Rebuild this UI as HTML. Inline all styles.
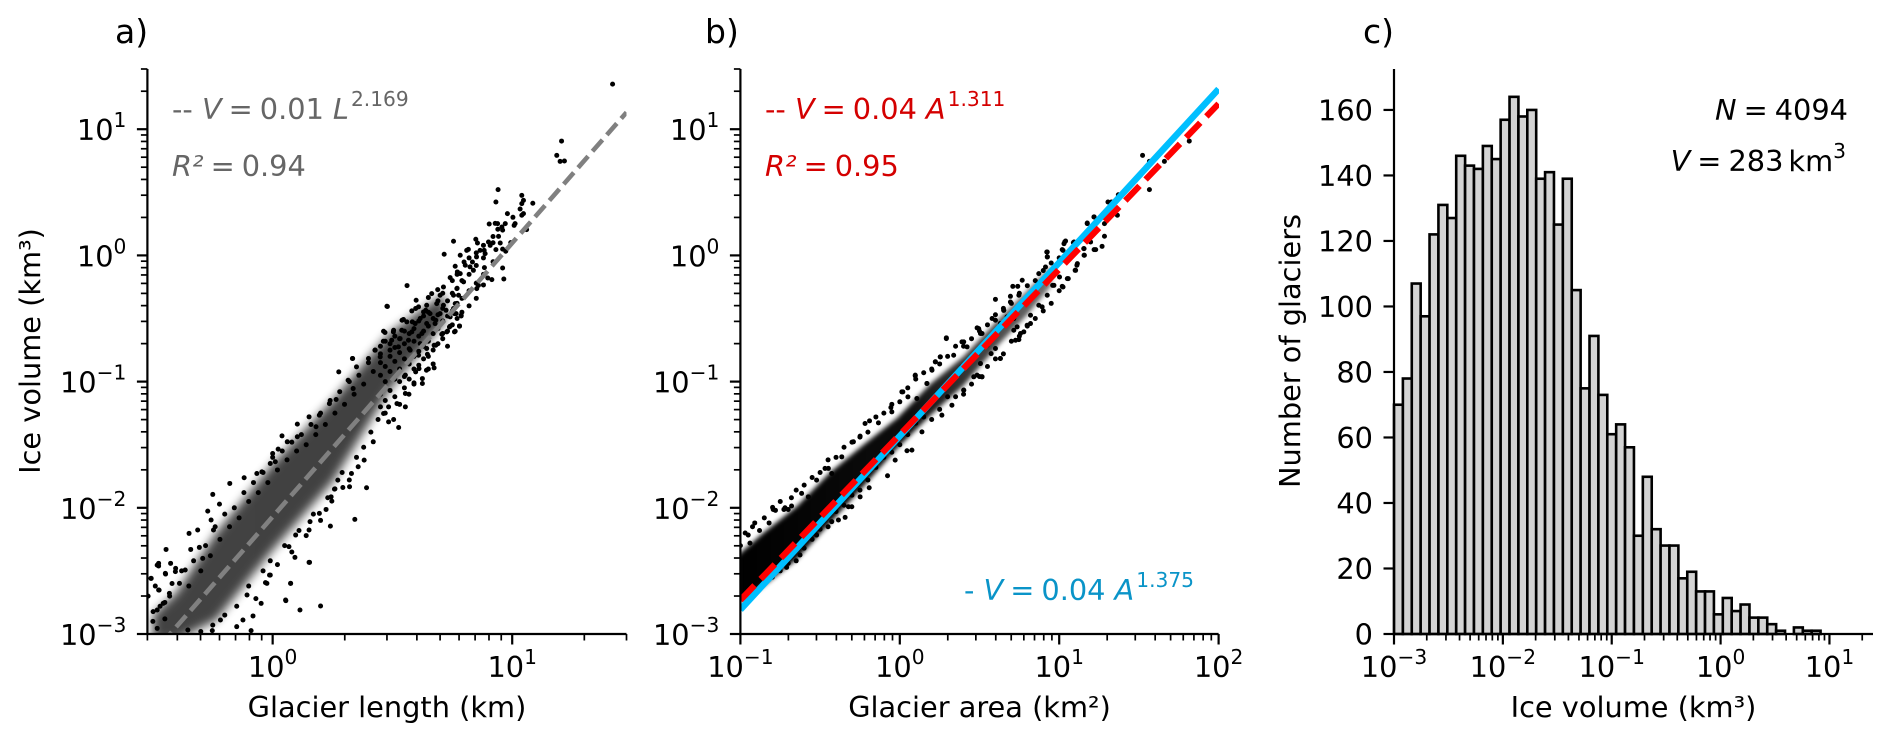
<!DOCTYPE html>
<html lang="en">
<head>
<meta charset="utf-8">
<title>Glacier volume scaling</title>
<style>
html,body{margin:0;padding:0;background:#fff;width:1892px;height:742px;overflow:hidden}
svg{display:block}
text{font-family:"DejaVu Sans","Liberation Sans",sans-serif;font-size:28.8px;fill:#000}
.it{font-style:italic}
</style>
</head>
<body>
<svg id="figure" xmlns="http://www.w3.org/2000/svg" width="1892" height="742" viewBox="0 0 1892 742">
<defs>
<clipPath id="clip-a"><rect x="147.4" y="69" width="479.1" height="565"/></clipPath>
<clipPath id="clip-b"><rect x="740.4" y="69" width="478.6" height="565"/></clipPath>
<filter id="soft-a" x="-10%" y="-10%" width="120%" height="120%"><feGaussianBlur stdDeviation="5"/></filter>
<filter id="soft-b" x="-10%" y="-10%" width="120%" height="120%"><feGaussianBlur stdDeviation="2.5"/></filter>
<linearGradient id="fade-b" x1="0" y1="0" x2="1" y2="0">
<stop offset="0" stop-color="#000" stop-opacity="1"/>
<stop offset="0.55" stop-color="#000" stop-opacity="0.95"/>
<stop offset="1" stop-color="#000" stop-opacity="0.55"/>
</linearGradient>
</defs>
<g id="panel-a"></g>
<g id="panel-b"></g>
<g id="panel-c"></g>

<text x="115" y="43" style="font-size:33px">a)</text>
<text x="705" y="43" style="font-size:33px">b)</text>
<text x="1363" y="43" style="font-size:33px">c)</text>

<text x="387" y="717" text-anchor="middle">Glacier length (km)</text>
<text x="979.5" y="717" text-anchor="middle">Glacier area (km²)</text>
<text x="1633.5" y="717" text-anchor="middle">Ice volume (km³)</text>
<text transform="translate(40,351) rotate(-90)" text-anchor="middle">Ice volume (km³)</text>
<text transform="translate(1300,351) rotate(-90)" text-anchor="middle">Number of glaciers</text>

<text x="172" y="119" style="fill:#666">-- <tspan class="it" style="fill:#666">V</tspan><tspan dx="7" style="fill:#666">=</tspan><tspan dx="7" style="fill:#666">0.01</tspan><tspan dx="9" class="it" style="fill:#666">L</tspan><tspan dx="2" dy="-13" style="font-size:20.2px;fill:#666">2.169</tspan></text>
<text x="172" y="176" style="fill:#666"><tspan class="it" style="fill:#666">R²</tspan><tspan dx="7" style="fill:#666">=</tspan><tspan dx="7" style="fill:#666">0.94</tspan></text>

<text x="765" y="119" style="fill:#d40000">-- <tspan class="it" style="fill:#d40000">V</tspan><tspan dx="7" style="fill:#d40000">=</tspan><tspan dx="7" style="fill:#d40000">0.04</tspan><tspan dx="9" class="it" style="fill:#d40000">A</tspan><tspan dx="2" dy="-13" style="font-size:20.2px;fill:#d40000">1.311</tspan></text>
<text x="765" y="176" style="fill:#d40000"><tspan class="it" style="fill:#d40000">R²</tspan><tspan dx="7" style="fill:#d40000">=</tspan><tspan dx="7" style="fill:#d40000">0.95</tspan></text>
<text x="964" y="600" style="fill:#0a94c8">- <tspan class="it" style="fill:#0a94c8">V</tspan><tspan dx="7" style="fill:#0a94c8">=</tspan><tspan dx="7" style="fill:#0a94c8">0.04</tspan><tspan dx="9" class="it" style="fill:#0a94c8">A</tspan><tspan dx="2" dy="-13" style="font-size:20.2px;fill:#0a94c8">1.375</tspan></text>

<text x="1848" y="120" text-anchor="end"><tspan class="it">N</tspan><tspan dx="7">=</tspan><tspan dx="7">4094</tspan></text>
<text x="1846" y="171" text-anchor="end"><tspan class="it">V</tspan><tspan dx="7">=</tspan><tspan dx="7">283</tspan><tspan dx="5">km</tspan><tspan dy="-13" style="font-size:20.2px">3</tspan></text>
</svg>

<script>
// ---------- Panel a: log10(length km), log10(volume km3) ----------
const aLengthLog10 = [
1.419,1.206,1.186,1.200,1.218,.941,.932,1.040,1.047,1.040,1.086,1.033,1.047,1.040,.980,1.003,.904,.929,.939,.971,.957,.940,1.012,1.008,1.060,.943,.848,.855,.901,.908,.950,.994,.755,.817,.810,.866,.883,.887,.932,.973,.783,.716,.851,.799,.834,.762,.804,.824,.838,.884,.771,.783,.741,.797,.898,.915,.965,.859,.880,.852,.561,.713,.689,.664,.650,.699,.769,.755,.776,.599,.479,.685,.713,.643,.609,.762,.755,.581,.630,.657,.699,.741,.766,.787,.616,.546,.560,.595,.643,.678,.741,.780,.762,.727,.706,.469,.504,.539,.581,.623,.462,.497,.532,.567,.616,.681,.428,.643,.646,.449,.490,.525,.334,.400,.574,.609,
.477,.597,.540,.583,.639,.681,.724,.759,.787,.780,.738,.759,.710,.674,.674,.642,.611,.625,.590,.569,.625,.554,.519,.526,.505,.484,.463,.505,.427,.333,.276,.350,.315,.336,.265,.237,.195,.152,.103,.181,.039,.061,.023,0,.103,-.010,.011,-.045,-.119,-.179,-.066,-.250,-.222,-.271,-.257,-.349,-.313,-.247,-.445,-.342,-.476,-.476,-.426,-.447,-.405,-.507,-.476,-.365,-.306,-.292,
.392,.321,.293,.258,.244,.247,.223,.195,.241,.343,.156,.152,.096,.068,.093,.152,.075,-.010,-.024,.054,.420,.382,.357,.329,.272,.463,.484,.554,.597,.554,
-.508,-.482,-.448,-.406,-.474,-.431,-.499,-.482,-.457,-.389,-.013,-.030,.075,.055,.114,.200,.154,-.082,-.124,-.090,-.048,-.107,-.150,-.218,-.252,-.354,-.482
];
const aVolumeLog10 = [
1.357,.906,.793,.745,.748,.521,.423,.476,.436,.410,.413,.368,.331,.318,.331,.302,.249,.254,.252,.252,.225,.207,.252,.238,.204,.151,.128,.098,.106,.080,.098,.101,.112,.048,.040,.040,.040,.014,.046,.033,.001,.009,-.012,-.052,-.052,-.086,-.078,-.091,-.118,-.097,-.131,-.144,-.176,-.210,-.179,-.192,-.187,-.237,-.234,-.263,-.239,-.250,-.271,-.303,-.334,-.316,-.263,-.316,-.316,-.355,-.405,-.382,-.395,-.395,-.408,-.382,-.421,-.440,-.448,-.461,-.461,-.487,-.461,-.480,-.500,-.508,-.527,-.540,-.540,-.540,-.561,-.559,-.601,-.606,-.625,-.611,-.606,-.593,-.606,-.619,-.680,-.672,-.659,-.672,-.699,-.712,-.751,-.738,-.783,-.804,-.751,-.725,-.817,-.817,-.751,-.791,
-.403,-.421,-.514,-.527,-.435,-.514,-.435,-.461,-.474,-.561,-.567,-.606,-.619,-.712,-.891,-.910,-.897,-.976,-1.010,-1.100,-1.015,-1.200,-1.174,-1.364,-1.300,-1.319,-.601,-.593,-.751,-.817,-.923,-.883,-.989,-1.055,-1.142,-1.174,-1.266,-1.279,-1.337,-1.358,-1.430,-1.477,-1.535,-1.570,-1.437,-1.649,-1.635,-1.715,-1.762,-1.807,-1.728,-1.894,-1.971,-2.026,-2.097,-2.203,-2.176,-2.176,-2.330,-2.330,-2.440,-2.461,-2.440,-2.525,-2.480,-2.559,-2.651,-2.493,-2.314,-2.401,
-1.841,-1.833,-1.839,-1.852,-1.913,-1.947,-2.013,-2.044,-2.145,-2.092,-2.110,-2.176,-2.216,-2.308,-2.393,-2.432,-2.599,-2.533,-2.599,-2.731,-1.477,-1.622,-1.675,-1.728,-1.781,-1.253,-1.200,-1.094,-.923,-.949,
-2.559,-2.454,-2.520,-2.506,-2.652,-2.678,-2.823,-2.810,-2.757,-2.599,-2.533,-2.593,-2.599,-2.736,-2.810,-2.778,-2.432,-2.857,-2.889,-2.973,-2.757,-2.691,-2.942,-2.889,-2.973,-2.968,-2.955
];
// further estimated points filling the busy parts of the cloud: [log10 length, log10 volume]
const aCloudPoints = [
[.45,-.95],[.45,-.85],[.45,-.72],[.45,-1.1],[.45,-1.2],[.45,-.78],[.47,-1.0],[.47,-.88],[.47,-.68],[.47,-1.15],[.49,-.92],[.49,-.8],[.49,-1.07],[.49,-.7],
[.51,-.98],[.51,-.84],[.51,-.73],[.51,-1.12],[.51,-.64],[.53,-.9],[.53,-.77],[.53,-1.0],[.53,-.66],[.53,-1.18],[.55,-.82],[.55,-.7],[.55,-.96],[.55,-1.05],[.55,-.6],
[.57,-.86],[.57,-.74],[.57,-.62],[.57,-.98],[.59,-.8],[.59,-.68],[.59,-.58],[.59,-.9],[.59,-1.02],[.61,-.76],[.61,-.64],[.61,-.52],[.61,-.87],[.63,-.72],[.63,-.6],[.63,-.82],[.63,-.48],
[.65,-.68],[.65,-.56],[.65,-.8],[.65,-.45],[.65,-.9],[.67,-.62],[.67,-.5],[.67,-.75],[.67,-.86],[.69,-.58],[.69,-.47],[.69,-.7],[.69,-.36],[.71,-.52],[.71,-.42],[.71,-.66],[.71,-.3],
[.73,-.48],[.73,-.36],[.73,-.6],[.73,-.72],[.75,-.44],[.75,-.3],[.75,-.55],[.75,-.2],[.77,-.38],[.77,-.26],[.77,-.5],[.77,-.15],[.79,-.34],[.79,-.2],[.79,-.45],
[.82,-.28],[.82,-.15],[.82,-.4],[.82,-.02],[.85,-.22],[.85,-.08],[.85,-.34],[.85,.02],[.88,-.15],[.88,-.02],[.88,.08],[.92,-.05],[.92,.1],[.92,.15],[.96,.05],[.96,.2],[.96,-.1],
[-.45,-2.75],[-.42,-2.6],[-.38,-2.5],[-.35,-2.62],[-.33,-2.42],[-.3,-2.5],[-.28,-2.3],[-.26,-2.38],[-.24,-2.15],[-.22,-2.25],[-.2,-2.05],[-.18,-2.15],[-.16,-2.0],[-.14,-2.08],[-.12,-1.88],[-.1,-1.95],[-.08,-1.8],[-.06,-1.88],[-.04,-1.72],[-.02,-1.8],[0,-1.6],[.02,-1.7],[.04,-1.55],[.06,-1.62],[.08,-1.48],[.1,-1.55],[.12,-1.42],[.14,-1.5],[.16,-1.34],[.18,-1.42],[.2,-1.25],[.22,-1.34],[.24,-1.15],[.26,-1.25],[.28,-1.08],[.3,-1.18],[.32,-1.0],[.34,-1.1],[.36,-.95],[.38,-1.02],[.4,-.85],[.42,-.92],
[-.3,-2.98],[-.25,-2.93],[-.2,-2.85],[-.15,-2.78],[-.1,-2.62],[-.07,-2.72],[-.04,-2.5],[-.01,-2.42],[.02,-2.45],[.05,-2.3],[.08,-2.35],[.11,-2.18],[.14,-2.22],[.17,-2.05],[.2,-2.1],[.23,-1.92],[.26,-1.85],[.29,-1.72],[.32,-1.78],[.35,-1.6],[.38,-1.52],[.41,-1.4],[.44,-1.3],[.47,-1.25],
[-.5,-2.9],[-.47,-2.78],[-.45,-2.88],[-.43,-2.7],[-.52,-2.7],[-.49,-2.62]
];
// dense core of the cloud: estimated envelope of volume at given lengths
const aCoreLength = [-.5,-.403,-.236,0,.252,.486,.6,.72];
const aCoreUpper = [-2.85,-2.675,-2.2,-1.654,-1.147,-.62,-.46,-.3];
const aCoreLower = [-3.05,-3.05,-2.89,-2.335,-1.79,-1.07,-.8,-.52];
const aFitCoef = 0.0085;
const aFitExponent = 2.169;
const aFitRange = [0.3, 30];
const aXTicks = [0, 1];
const volumeTicks = [-3, -2, -1, 0, 1];

// ---------- Panel b: log10(area km2), log10(volume km3) ----------
const bAreaLog10 = [
-.924,-.951,-.798,-.794,-.727,-.700,-.679,-.616,-.574,-.522,-.469,-.448,-.427,-.364,-.249,-.291,-.190,-.218,-.134,-.056,-.050,.019,.051,.097,.170,.223,.254,.292,.401,.495,.506,.600,.652,.694,.715,
-.710,-.626,-.522,-.427,-.385,-.343,-.322,-.301,-.249,-.192,-.077,-.029,.045,.076,.139,.264,.327,.401,.516,.464,.631,.600,.747,.778,.820,
1.218,1.176,1.197,1.040,1.030,1.093,1.019,.925,.925,1.156,1.229,1.156,1.114,1.103,1.019,1.051,.914,.872,.768,.709,.740,.600,.747,.694,.652,.820,.799,.872,.893,.925,.967,.579,.485,.292,.390,.516,.631,.757,.726,.631,.573,.254,.097,.223,.202,.338,.390,.485,.516,.401,.013,.170,.107,.736,.715,.673,.548,.506,.422,
1.523,1.566,1.660,1.566,1.816,1.371,1.306,1.328,1.365,1.219,1.176,1.284,1.284,1.035,1.089,1.269,1.154,1.219,1.158,1.111,1.100,.922,.926,1.024,1.057,1.024,.959,1.002
];
const bVolumeLog10 = [
-2.150,-2.216,-1.997,-2.013,-2.013,-2.013,-1.986,-1.886,-1.913,-1.781,-1.688,-1.688,-1.728,-1.596,-1.432,-1.477,-1.311,-1.332,-1.327,-1.205,-1.240,-1.081,-1.121,-.955,-1.015,-.844,-.804,-.659,-.685,-.580,-.619,-.514,-.435,-.369,-.501,
-2.472,-2.374,-2.216,-2.110,-2.097,-2.076,-1.992,-1.992,-1.913,-1.841,-1.746,-1.622,-1.548,-1.543,-1.398,-1.266,-1.187,-1.068,-.962,-.962,-.817,-.738,-.667,-.606,-.540,
.304,.252,.106,.114,.093,.106,.046,.027,-.012,.054,.046,.001,-.065,-.118,-.245,-.184,-.092,-.144,-.197,-.245,-.245,-.348,-.316,-.324,-.435,-.474,-.553,-.395,-.408,-.316,-.237,-.500,-.574,-.653,-.685,-.619,-.540,-.619,-.672,-.817,-.778,-.804,-.949,-.843,-.910,-.791,-.883,-.949,-.962,-1.068,-1.081,-1.015,-1.134,-.566,-.593,-.487,-.712,-.857,-.725,
.793,.745,.745,.521,.906,.481,.423,.423,.318,.305,.257,.252,.152,.107,.101,.072,.054,.046,.001,-.078,-.118,.027,-.012,.040,-.184,-.250,-.237,-.171
];
// further estimated points along the edges of the band: [log10 area, log10 volume]
const bCloudPoints = [
[.1,-.98],[.15,-.93],[.2,-.9],[.25,-.86],[.3,-.8],[.35,-.72],[.4,-.72],[.45,-.66],[.5,-.6],[.55,-.55],[.6,-.47],[.65,-.42],[.7,-.38],[.75,-.3],[.8,-.24],[.85,-.2],[.9,-.12],[.95,-.06],[1.0,-.02],
[.1,-1.33],[.15,-1.28],[.2,-1.3],[.25,-1.22],[.3,-1.12],[.35,-1.12],[.4,-1.1],[.45,-1.02],[.5,-.96],[.55,-.88],[.6,-.82],[.65,-.78],[.7,-.68],[.75,-.64],[.8,-.56],[.85,-.5],[.9,-.44],[.95,-.38],[1.0,-.28],
[-1,-2.3],[-.97,-2.2],[-.94,-2.28],[-.91,-2.12],[-.88,-2.18],[-.85,-2.08],[-.82,-2.12],[-.78,-2.02],[-.75,-1.95],[-.72,-2.0],[-.68,-1.92],[-.65,-1.86],[-.6,-1.82],[-.55,-1.76],[-.5,-1.72],[-.45,-1.62],[-.4,-1.6],[-.35,-1.52],[-.3,-1.48],[-.25,-1.44],[-.2,-1.4],[-.15,-1.28],[-.1,-1.25],[-.05,-1.18],[0,-1.16],[.05,-1.05],
[-.8,-2.55],[-.75,-2.5],[-.7,-2.44],[-.65,-2.42],[-.6,-2.32],[-.55,-2.25],[-.5,-2.17],[-.45,-2.15],[-.4,-2.03],[-.35,-1.98],[-.3,-1.9],[-.25,-1.86],[-.2,-1.78],[-.15,-1.68],[-.1,-1.6],[-.05,-1.56],[0,-1.5],[.05,-1.42]
];
const bCoreArea = [-1.02,-.857,-.647,-.438,-.228,-.018,.191,.401,.610,.8,.95];
const bCoreUpper = [-2.38,-2.2,-1.99,-1.72,-1.5,-1.29,-1.02,-.8,-.52,-.28,-.08];
const bCoreLower = [-2.76,-2.62,-2.41,-2.12,-1.83,-1.53,-1.27,-1.03,-.72,-.47,-.24];
const bFitRange = [0.1, 100];
const bRedCoef = 0.038;
const bRedExponent = 1.311;
const bBlueCoef = 0.037;
const bBlueExponent = 1.375;
const bXTicks = [-1, 0, 1, 2];

// ---------- Panel c: histogram ----------
const glacierCounts = [70,78,107,97,122,131,127,146,143,142,149,145,157,164,158,160,139,141,125,139,105,75,91,73,61,64,57,30,48,32,27,27,17,19,13,13,6,11,7,9,5,5,3,1,0,2,1,1,0];
const countTicks = [0,20,40,60,80,100,120,140,160];
const cXTicks = [-3,-2,-1,0,1];
const binLogStart = -3;
const binLogEnd = 1;

// ---------- helpers ----------
const NS = 'http://www.w3.org/2000/svg';
function make(parent, tag, attrs) {
  const el = document.createElementNS(NS, tag);
  for (const k in attrs) el.setAttribute(k, attrs[k]);
  parent.appendChild(el);
  return el;
}
function scale(d0, d1, r0, r1) {
  return v => r0 + (v - d0) / (d1 - d0) * (r1 - r0);
}
function powerTick(parent, x, y, exponent, anchor) {
  const t = make(parent, 'text', {x: x, y: y, 'text-anchor': anchor});
  
  
  t.appendChild(document.createTextNode('10'));
  const s = make(t, 'tspan', {dy: -13, style: 'font-size:20.2px'});
  s.textContent = String(exponent).replace('-', '\u2212');
}
function tickLine(parent, x1, y1, x2, y2, w) {
  const l = make(parent, 'line', {x1: x1, y1: y1, x2: x2, y2: y2, stroke: '#000', 'stroke-width': w});
  
  
}
function spines(parent, left, right, top, bottom) {
  const s = make(parent, 'path', {d: 'M' + left + ' ' + top + 'V' + bottom + 'H' + right, fill: 'none', stroke: '#000', 'stroke-width': 2.2});
  
  
}
function logXTicks(parent, X, lo, hi, labels, bottom) {
  for (let d = Math.floor(lo); d <= Math.ceil(hi); d++) {
    for (let m = 1; m <= 9; m++) {
      const v = d + Math.log10(m);
      if (v < lo - 1e-6 || v > hi + 1e-6) continue;
      if (m === 1) tickLine(parent, X(v), bottom, X(v), bottom + 10.5, 2.2);
      else tickLine(parent, X(v), bottom, X(v), bottom + 6.5, 1.7);
    }
  }
  labels.forEach(e => powerTick(parent, X(e), 677, e, 'middle'));
}
function logYTicks(parent, Y, lo, hi, labels, left) {
  for (let d = Math.floor(lo); d <= Math.ceil(hi); d++) {
    for (let m = 1; m <= 9; m++) {
      const v = d + Math.log10(m);
      if (v < lo - 1e-6 || v > hi + 1e-6) continue;
      if (m === 1) tickLine(parent, left - 10.5, Y(v), left, Y(v), 2.2);
      else tickLine(parent, left - 6.5, Y(v), left, Y(v), 1.7);
    }
  }
  labels.forEach(e => powerTick(parent, left - 21, Y(e) + 11, e, 'end'));
}
function dots(parent, X, Y, xs, ys) {
  xs.forEach((v, i) => {
    const c = make(parent, 'circle', {cx: X(v), cy: Y(ys[i]), r: 2.5, fill: '#000'});
    
    
  });
}
function pairDots(parent, X, Y, pairs) {
  pairs.forEach(p => {
    const c = make(parent, 'circle', {cx: X(p[0]), cy: Y(p[1]), r: 2.5, fill: '#000'});
    
    
  });
}
function core(parent, X, Y, xs, up, low, paint, opacity, blur) {
  const pts = xs.map((v, i) => X(v) + ',' + Y(up[i])).concat(xs.map((v, i) => X(v) + ',' + Y(low[i])).reverse());
  const p = make(parent, 'polygon', {points: pts.join(' '), fill: paint, opacity: opacity, filter: blur});
  
  
}
function fitLine(parent, X, Y, range, coef, exponent, color, width, dash, name) {
  const y = v => Math.log10(coef) + exponent * Math.log10(v);
  const attrs = {x1: X(Math.log10(range[0])), y1: Y(y(range[0])), x2: X(Math.log10(range[1])), y2: Y(y(range[1])), stroke: color, 'stroke-width': width};
  if (dash) attrs['stroke-dasharray'] = dash;
  const l = make(parent, 'line', attrs);
  
  
}

// ---------- draw panel a ----------
(function () {
  const g = document.getElementById('panel-a');
  const xLo = Math.log10(0.3), xHi = Math.log10(30), yHi = Math.log10(30);
  const X = scale(xLo, xHi, 147.4, 626.5);
  const Y = scale(-3, yHi, 634, 69);
  const marks = make(g, 'g', {'clip-path': 'url(#clip-a)'});
  
  
  core(marks, X, Y, aCoreLength, aCoreUpper, aCoreLower, '#000', 0.74, 'url(#soft-a)');
  dots(marks, X, Y, aLengthLog10, aVolumeLog10);
  pairDots(marks, X, Y, aCloudPoints);
  fitLine(marks, X, Y, aFitRange, aFitCoef, aFitExponent, '#808080', 4.6, '15.2 6.6', 'length-fit-line');
  spines(g, 147.4, 626.5, 69, 634);
  logXTicks(g, X, xLo, xHi, aXTicks, 634);
  logYTicks(g, Y, -3, yHi, volumeTicks, 147.4);
})();

// ---------- draw panel b ----------
(function () {
  const g = document.getElementById('panel-b');
  const yHi = Math.log10(30);
  const X = scale(-1, 2, 740.4, 1218.6);
  const Y = scale(-3, yHi, 634, 69);
  const marks = make(g, 'g', {'clip-path': 'url(#clip-b)'});
  
  
  core(marks, X, Y, bCoreArea, bCoreUpper, bCoreLower, 'url(#fade-b)', 1, 'url(#soft-b)');
  dots(marks, X, Y, bAreaLog10, bVolumeLog10);
  pairDots(marks, X, Y, bCloudPoints);
  fitLine(marks, X, Y, bFitRange, bBlueCoef, bBlueExponent, '#00bfff', 6.5, null, 'area-fit-line-blue');
  fitLine(marks, X, Y, bFitRange, bRedCoef, bRedExponent, '#ff0000', 6.2, '20.4 8.8', 'area-fit-line-red');
  spines(g, 740.4, 1218.6, 69, 634);
  logXTicks(g, X, -1, 2, bXTicks, 634);
  logYTicks(g, Y, -3, yHi, volumeTicks, 740.4);
})();

// ---------- draw panel c ----------
(function () {
  const g = document.getElementById('panel-c');
  const xHi = 1.4;
  const X = scale(-3, xHi, 1394, 1873);
  const Y = scale(0, 172.5, 634, 69);
  const n = glacierCounts.length;
  glacierCounts.forEach((count, i) => {
    const e0 = binLogStart + (binLogEnd - binLogStart) * i / n;
    const e1 = binLogStart + (binLogEnd - binLogStart) * (i + 1) / n;
    const r = make(g, 'rect', {x: X(e0), y: Y(count), width: X(e1) - X(e0), height: Y(0) - Y(count), fill: '#d3d3d3', stroke: '#000', 'stroke-width': 2.6});
    
    
  });
  spines(g, 1394, 1873, 69, 634);
  logXTicks(g, X, -3, xHi, cXTicks, 634);
  countTicks.forEach(c => {
    tickLine(g, 1383.5, Y(c), 1394, Y(c), 2.2);
    const t = make(g, 'text', {x: 1373, y: Y(c) + 10.5, 'text-anchor': 'end'});
    
    
    t.textContent = c;
  });
})();
</script>
</body>
</html>
